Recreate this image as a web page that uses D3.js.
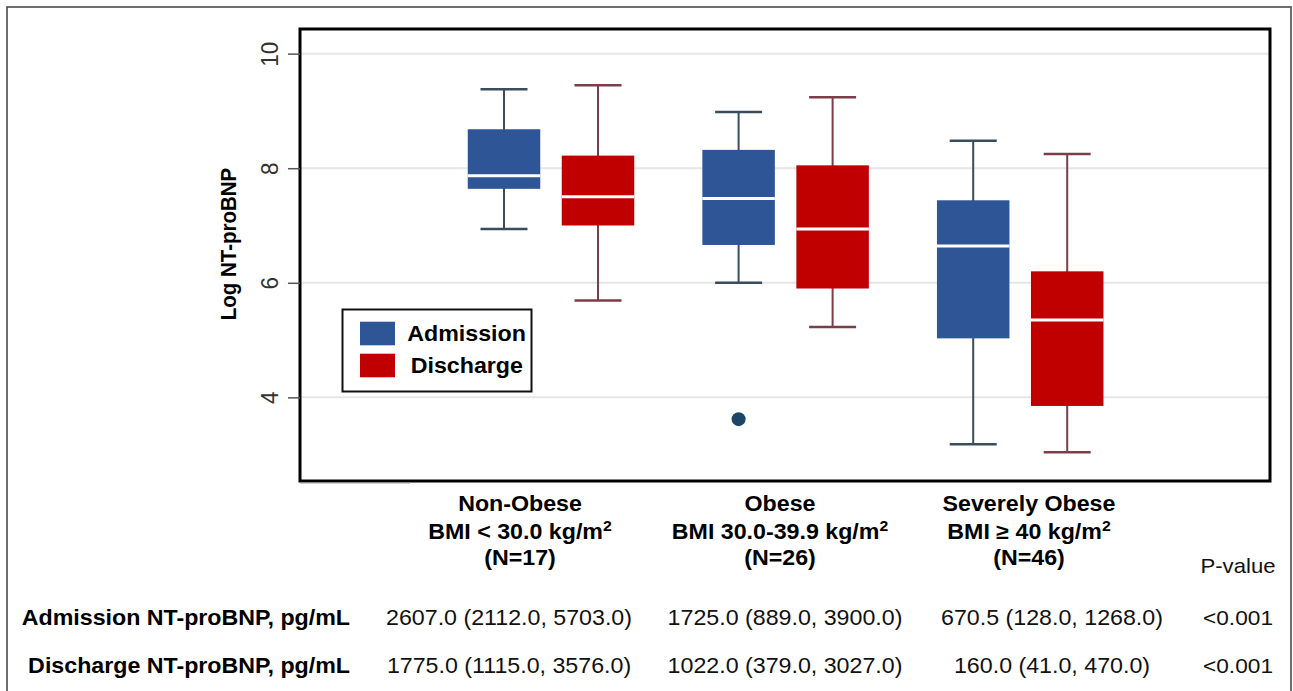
<!DOCTYPE html>
<html lang="en">
<head>
  <meta charset="UTF-8">
  <title>Log NT-proBNP by BMI group</title>
  <script src="https://d3js.org/d3.v7.min.js"></script>
  <style>
    body { margin: 0; background: #fff; }
    svg { display: block; font-family: "Liberation Sans", Arial, sans-serif; }
  </style>
</head>
<body>
  <svg id="chart" width="1293" height="691"></svg>

  <script>
    // ---- data ----
    const groups = ["Non-Obese", "Obese", "Severely Obese"];
    const groupLines = [
      ["Non-Obese", "BMI < 30.0 kg/m²", "(N=17)"],
      ["Obese", "BMI 30.0-39.9 kg/m²", "(N=26)"],
      ["Severely Obese", "BMI ≥ 40 kg/m²", "(N=46)"]
    ];
    const series = ["Admission", "Discharge"];
    // [lower whisker, q1, median, q3, upper whisker] on the log scale
    const admissionBox = [
      [6.94, 7.64, 7.87, 8.68, 9.38],
      [6.00, 6.66, 7.47, 8.32, 8.98],
      [3.18, 5.03, 6.64, 7.44, 8.48]
    ];
    const dischargeBox = [
      [5.69, 7.00, 7.50, 8.22, 9.45],
      [5.23, 5.90, 6.94, 8.05, 9.24],
      [3.04, 3.85, 5.35, 6.20, 8.25]
    ];
    const outliers = [{ group: "Obese", series: "Admission", value: 3.62 }];
    const yTicks = [4, 6, 8, 10];
    const yTitle = "Log NT-proBNP";

    const rowLabels = ["Admission NT-proBNP, pg/mL", "Discharge NT-proBNP, pg/mL"];
    const admissionText = ["2607.0 (2112.0, 5703.0)", "1725.0 (889.0, 3900.0)", "670.5 (128.0, 1268.0)"];
    const dischargeText = ["1775.0 (1115.0, 3576.0)", "1022.0 (379.0, 3027.0)", "160.0 (41.0, 470.0)"];
    const pHeader = "P-value";
    const pValues = ["<0.001", "<0.001"];

    // ---- layout ----
    const S = 1.08; // the original figure is slightly stretched sideways
    const plot = { left: 300, right: 1270, top: 29, bottom: 481 };
    const colors = { Admission: "#2e5596", Discharge: "#c00000" };
    const whiskerColors = { Admission: "#3b4d5c", Discharge: "#7a3e48" };
    const boxW = 72.5, capW = 47;

    const svg = d3.select("#chart");

    // outer frame
    svg.append("rect")
      .attr("x", 7).attr("y", 7).attr("width", 1284).attr("height", 700)
      .attr("fill", "none").attr("stroke", "#4a4a4a").attr("stroke-width", 1.6);

    const y = d3.scaleLinear().domain([2.54, 10.43]).range([plot.bottom, plot.top]);
    const x = d3.scaleBand().domain(groups).range([433.7, 1137.5]);
    const sub = d3.scalePoint().domain(series).range([-47, 47]);
    const cx = (g, s) => x(g) + x.bandwidth() / 2 + sub(s);

    // gridlines
    svg.append("g").selectAll("line")
      .data(yTicks)
      .join("line")
      .attr("x1", plot.left).attr("x2", plot.right)
      .attr("y1", d => y(d)).attr("y2", d => y(d))
      .attr("stroke", "#e6e6e6").attr("stroke-width", 2);

    // boxes
    const boxes = [];
    groups.forEach((g, i) => {
      boxes.push({ group: g, series: "Admission", v: admissionBox[i] });
      boxes.push({ group: g, series: "Discharge", v: dischargeBox[i] });
    });

    const box = svg.append("g").selectAll("g")
      .data(boxes)
      .join("g")
      .attr("transform", d => `translate(${cx(d.group, d.series)},0)`);

    box.append("line")
      .attr("y1", d => y(d.v[0])).attr("y2", d => y(d.v[4]))
      .attr("stroke", d => whiskerColors[d.series]).attr("stroke-width", 2);

    box.selectAll(".cap")
      .data(d => [d, d].map((e, k) => ({ s: e.series, val: e.v[k * 4] })))
      .join("line")
      .attr("class", "cap")
      .attr("x1", -capW / 2).attr("x2", capW / 2)
      .attr("y1", d => y(d.val)).attr("y2", d => y(d.val))
      .attr("stroke", d => whiskerColors[d.s]).attr("stroke-width", 2.5);

    box.append("rect")
      .attr("x", -boxW / 2).attr("width", boxW)
      .attr("y", d => y(d.v[3]))
      .attr("height", d => y(d.v[1]) - y(d.v[3]))
      .attr("fill", d => colors[d.series]);

    box.append("line")
      .attr("x1", -boxW / 2).attr("x2", boxW / 2)
      .attr("y1", d => y(d.v[2])).attr("y2", d => y(d.v[2]))
      .attr("stroke", "#fff").attr("stroke-width", 3);

    svg.append("g").selectAll("circle")
      .data(outliers)
      .join("circle")
      .attr("cx", d => cx(d.group, d.series))
      .attr("cy", d => y(d.value))
      .attr("r", 7)
      .attr("fill", "#1c4568");

    // plot frame
    svg.append("rect")
      .attr("x", plot.left).attr("y", plot.top)
      .attr("width", plot.right - plot.left).attr("height", plot.bottom - plot.top)
      .attr("fill", "none").attr("stroke", "#000").attr("stroke-width", 3);
    svg.append("line")
      .attr("x1", plot.left).attr("x2", 410)
      .attr("y1", plot.bottom + 2).attr("y2", plot.bottom + 2)
      .attr("stroke", "#999").attr("stroke-width", 1);

    // y axis
    const yAxis = svg.append("g")
      .attr("transform", `translate(${plot.left},0)`)
      .call(d3.axisLeft(y).tickValues(yTicks).tickSize(12).tickFormat(d3.format("d")));
    yAxis.select(".domain").remove();
    yAxis.selectAll(".tick line").attr("stroke", "#555").attr("stroke-width", 1.5);
    yAxis.selectAll(".tick text")
      .attr("x", null).attr("dy", null)
      .attr("text-anchor", "middle")
      .attr("transform", `translate(-22,0) scale(${S},1) rotate(-90)`)
      .attr("font-size", 22.5)
      .attr("fill", "#333");

    svg.append("text")
      .attr("transform", `translate(236,244) scale(${S},1) rotate(-90)`)
      .attr("text-anchor", "middle")
      .attr("font-size", 20.5).attr("font-weight", "bold")
      .attr("fill", "#000")
      .text(yTitle);

    // legend
    const legend = svg.append("g");
    legend.append("rect")
      .attr("x", 342.5).attr("y", 309.5).attr("width", 189).attr("height", 82)
      .attr("fill", "#fff").attr("stroke", "#111").attr("stroke-width", 2);
    const li = legend.selectAll("g.item")
      .data(series)
      .join("g")
      .attr("class", "item")
      .attr("transform", (d, i) => `translate(360,${321.7 + i * 32})`);
    li.append("rect")
      .attr("width", 35).attr("height", 23.6)
      .attr("fill", d => colors[d]);
    li.append("text")
      .attr("transform", (d, i) => `translate(${i ? 50.7 : 47.3},19) scale(${S},1)`)
      .attr("font-size", 21.5).attr("font-weight", "bold")
      .attr("fill", "#000")
      .text(d => d);

    // table below the plot
    function put(str, px, py, size, bold, anchor, fill) {
      const t = svg.append("text")
        .attr("transform", `translate(${px},${py}) scale(${S},1)`)
        .attr("text-anchor", anchor)
        .attr("font-size", size)
        .attr("font-weight", bold ? "bold" : "normal")
        .attr("fill", fill);
      // draw "²" as a raised small 2, like the original
      const parts = str.split("²");
      parts.forEach((p, k) => {
        if (k > 0) t.append("tspan").attr("font-size", "0.68em").attr("dy", "-0.5em").text("2");
        if (p) t.append("tspan").attr("dy", k > 0 ? "0.34em" : null).text(p);
      });
    }

    const headCenters = [520, 780, 1029];
    const valueCenters = [509, 785, 1052];
    const pCenter = 1238;
    const headBase = [511, 538.5, 564.5];
    const rowBase = [625, 673];

    groupLines.forEach((lines, i) => {
      lines.forEach((t, k) => put(t, headCenters[i], headBase[k], 21.5, true, "middle", "#000"));
    });
    put(pHeader, pCenter, 573, 20.5, false, "middle", "#111");

    [admissionText, dischargeText].forEach((row, r) => {
      put(rowLabels[r], 350, rowBase[r], 21.5, true, "end", "#000");
      row.forEach((t, i) => put(t, valueCenters[i], rowBase[r], 21.5, false, "middle", "#111"));
      put(pValues[r], pCenter, rowBase[r], 21, false, "middle", "#111");
    });
  </script>
</body>
</html>
